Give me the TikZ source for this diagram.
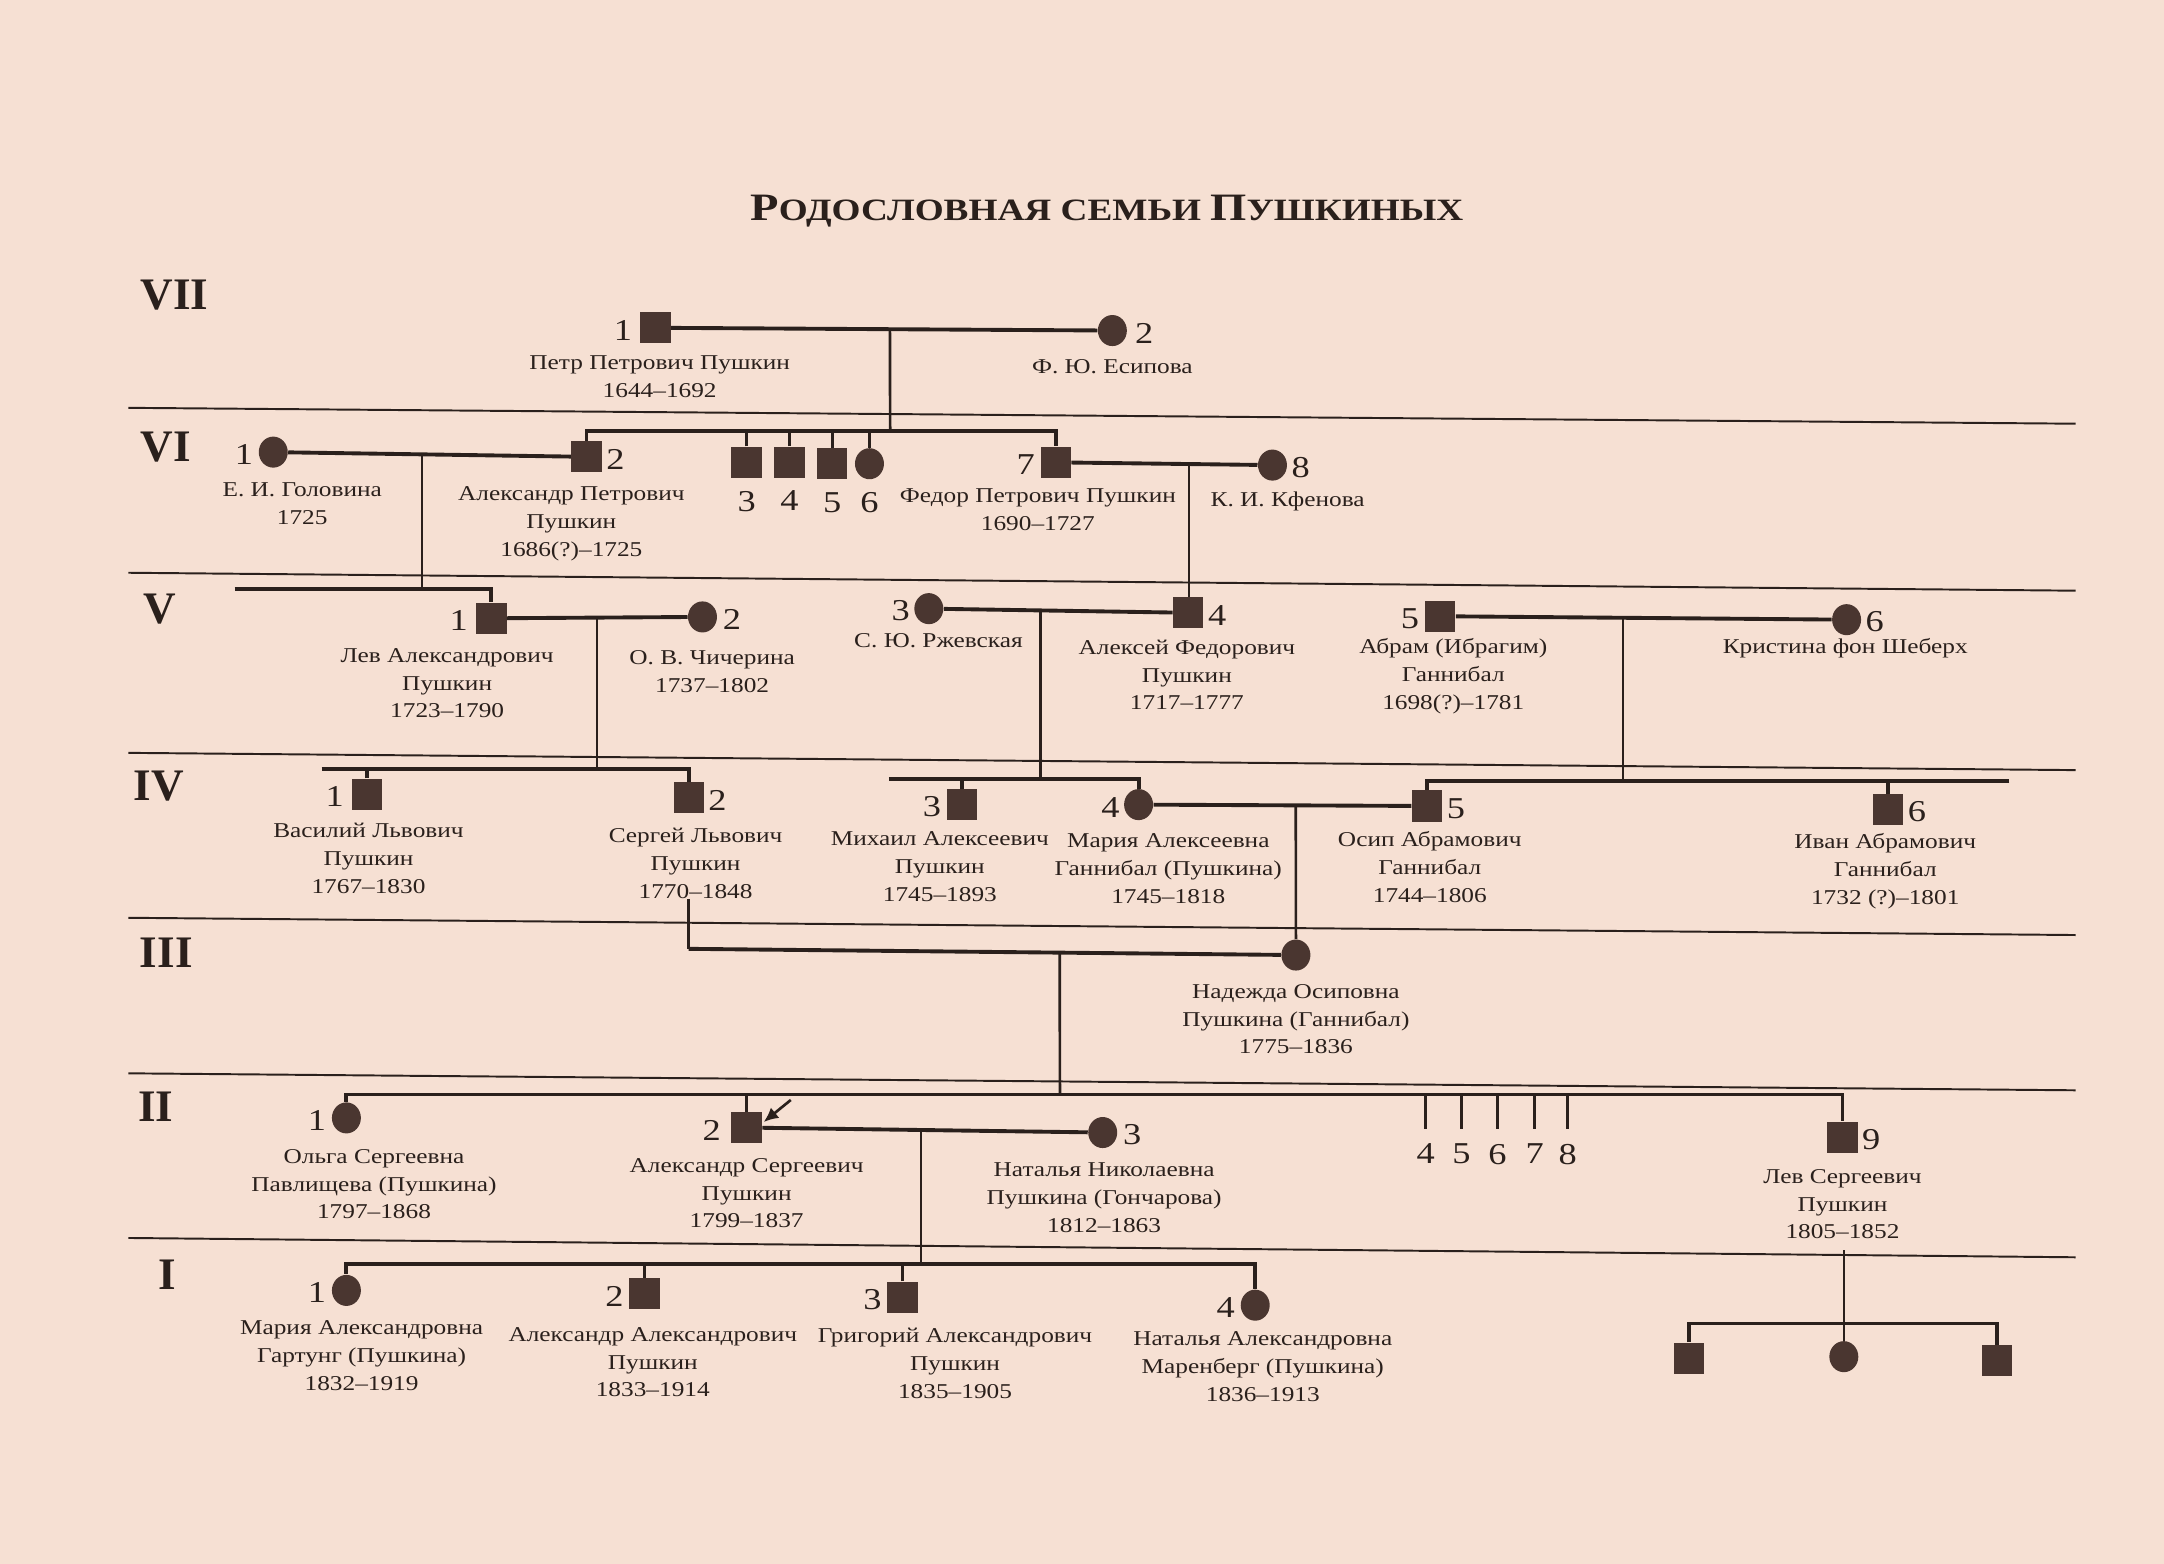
\documentclass[tikz,border=0pt]{standalone}
\usepackage{fontspec}
\setmainfont{Liberation Serif}[FakeStretch=1.2]
\newfontfamily\genfont{Liberation Serif}
\usetikzlibrary{positioning}
\usetikzlibrary{calc}
\usetikzlibrary{shapes.geometric}
\usetikzlibrary{arrows.meta}

\definecolor{paper}{HTML}{F6E0D3}
\definecolor{ink}{HTML}{2A201C}
\definecolor{symb}{HTML}{4A3630}
\newcommand{\capinit}[1]{{\fontsize{16}{16}\selectfont #1}}

\begin{document}
\begin{tikzpicture}[x=0.02cm, y=-0.02cm,
  male/.style={rectangle, fill=symb, minimum width=0.44cm, minimum height=0.45cm, inner sep=0pt},
  female/.style={ellipse, fill=symb, minimum width=0.42cm, minimum height=0.45cm, inner sep=0pt},
  num/.style={font=\fontsize{12.5}{13}\selectfont, text=ink, inner sep=0pt, yshift=-1pt},
  who/.style={font=\fontsize{8.7}{11.5}\selectfont, text=ink, align=center, inner sep=0pt},
  genlabel/.style={font=\genfont\bfseries\fontsize{18.6}{20}\selectfont, text=ink, inner sep=0pt},
  genline/.style={draw=ink, line width=0.8pt},
  couple/.style={draw=ink, line width=1.6pt},
  desc/.style={draw=ink, line width=1.1pt},
  pointer/.style={draw=ink, line width=1.1pt, -{Latex[length=6pt,width=5.5pt]}}]
\fill[paper] (0,0) rectangle (1568,1133);

\node[anchor=base, text=ink, inner sep=0pt, font=\bfseries\fontsize{12.8}{14}\selectfont] (title) at (802,160)
  {\capinit{Р}ОДОСЛОВНАЯ СЕМЬИ \capinit{П}УШКИНЫХ};

% generations
\node[genlabel] (g7) at (126.5,214) {VII};
\node[genlabel] (g6) at (120,324) {VI};
\node[genlabel] (g5) at (116,441) {V};
\node[genlabel] (g4) at (115,569.5) {IV};
\node[genlabel] (g3) at (120.5,690) {III};
\node[genlabel] (g2) at (113,802) {II};
\node[genlabel] (g1) at (121,923.5) {I};

\draw[genline] (93,295.5) -- (1504,307);
\draw[genline] (93,415) -- (1504,428);
\draw[genline] (93,545.5) -- (1504,558);
\draw[genline] (93,665) -- (1504,677.5);
\draw[genline] (93,777.7) -- (1504,790);
\draw[genline] (93,897) -- (1504,911);

% VII
\node[male] (petr) at (475,237.5) {};
\node[num, left=3pt of petr] (petr-n) {1};
\node[who] (petr-t) at (478,273) {Петр Петрович Пушкин\\1644--1692};
\node[female] (esipova) at (806,239.5) {};
\node[num, right=3pt of esipova] (esipova-n) {2};
\node[who] (esipova-t) at (806,266) {Ф. Ю. Есипова};

% VI
\node[female] (golovina) at (198,327.6) {};
\node[num, left=2pt of golovina] (golovina-n) {1};
\node[who] (golovina-t) at (219,365) {Е. И. Головина\\1725};
\node[male] (alexPetr) at (425,331) {};
\node[num, right=1.5pt of alexPetr] (alexPetr-n) {2};
\node[who] (alexPetr-t) at (414,379.5) {Александр Петрович\\Пушкин\\1686(?)--1725};
\node[male] (s3) at (541,335) {};
\node[male] (s4) at (572,335) {};
\node[male] (s5) at (603,336) {};
\node[female] (s6) at (630,336) {};
\node[num, below=4pt of s3] (s3-n) {3};
\node[num, below=4pt of s4] (s4-n) {4};
\node[num, below=4pt of s5] (s5-n) {5};
\node[num, below=4pt of s6] (s6-n) {6};
\node[male] (fedor) at (765,335) {};
\node[num, left=2pt of fedor] (fedor-n) {7};
\node[who] (fedor-t) at (752,369.5) {Федор Петрович Пушкин\\1690--1727};
\node[female] (kfenova) at (922,337) {};
\node[num, right=1.5pt of kfenova] (kfenova-n) {8};
\node[who] (kfenova-t) at (933,363) {К. И. Кфенова};

% V
\node[male] (lev) at (356,448) {};
\node[num, left=3pt of lev] (lev-n) {1};
\node[who] (lev-t) at (324,495) {Лев Александрович\\Пушкин\\1723--1790};
\node[female] (chicherina) at (509,447) {};
\node[num, right=2pt of chicherina] (chicherina-n) {2};
\node[who] (chicherina-t) at (516,486.5) {О. В. Чичерина\\1737--1802};
\node[female] (rzhevskaya) at (673,441) {};
\node[num, left=1.5pt of rzhevskaya] (rzhevskaya-n) {3};
\node[who] (rzhevskaya-t) at (680,464.5) {С. Ю. Ржевская};
\node[male] (alexei) at (861,444) {};
\node[num, right=1.5pt of alexei] (alexei-n) {4};
\node[who] (alexei-t) at (860,489) {Алексей Федорович\\Пушкин\\1717--1777};
\node[male] (abram) at (1043.5,446.5) {};
\node[num, left=2pt of abram] (abram-n) {5};
\node[who] (abram-t) at (1053,490) {Абрам (Ибрагим)\\Ганнибал\\1698(?)--1781};
\node[female] (christina) at (1338,449) {};
\node[num, right=1.5pt of christina] (christina-n) {6};
\node[who] (christina-t) at (1337,469.6) {Кристина фон Шеберх};

% IV
\node[male] (vasily) at (266,575.5) {};
\node[num, left=3pt of vasily] (vasily-n) {1};
\node[who] (vasily-t) at (267,622) {Василий Львович\\Пушкин\\1767--1830};
\node[male] (sergei) at (499,578) {};
\node[num, right=1.5pt of sergei] (sergei-n) {2};
\node[who] (sergei-t) at (504,625.5) {Сергей Львович\\Пушкин\\1770--1848};
\node[male] (mikhail) at (697,583) {};
\node[num, left=2pt of mikhail] (mikhail-n) {3};
\node[who] (mikhail-t) at (681,628) {Михаил Алексеевич\\Пушкин\\1745--1893};
\node[female] (maria) at (825,583) {};
\node[num, left=1.5pt of maria] (maria-n) {4};
\node[who] (maria-t) at (846.5,629.5) {Мария Алексеевна\\Ганнибал (Пушкина)\\1745--1818};
\node[male] (osip) at (1034,584) {};
\node[num, right=1.5pt of osip] (osip-n) {5};
\node[who] (osip-t) at (1036,628.5) {Осип Абрамович\\Ганнибал\\1744--1806};
\node[male] (ivan) at (1368,586.6) {};
\node[num, right=1.5pt of ivan] (ivan-n) {6};
\node[who] (ivan-t) at (1366,631.5) {Иван Абрамович\\Ганнибал\\1732 (?)--1801};

% III
\node[female] (nadezhda) at (939,692) {};
\node[who] (nadezhda-t) at (939,738.5) {Надежда Осиповна\\Пушкина (Ганнибал)\\1775--1836};

% II
\node[female] (olga) at (251,810) {};
\node[num, left=2pt of olga] (olga-n) {1};
\node[who] (olga-t) at (271,858) {Ольга Сергеевна\\Павлищева (Пушкина)\\1797--1868};
\node[male] (pushkin) at (541,817) {};
\node[num, left=4pt of pushkin] (pushkin-n) {2};
\node[who] (pushkin-t) at (541,864.5) {Александр Сергеевич\\Пушкин\\1799--1837};
\node[female] (natalia) at (799,820.6) {};
\node[num, right=2pt of natalia] (natalia-n) {3};
\node[who] (natalia-t) at (800,868) {Наталья Николаевна\\Пушкина (Гончарова)\\1812--1863};
\node[male] (levS) at (1335,824) {};
\node[num, right=1.5pt of levS] (levS-n) {9};
\node[who] (levS-t) at (1335,872.5) {Лев Сергеевич\\Пушкин\\1805--1852};

% I
\node[female] (mariaA) at (251,935) {};
\node[num, left=2pt of mariaA] (mariaA-n) {1};
\node[who] (mariaA-t) at (262,982) {Мария Александровна\\Гартунг (Пушкина)\\1832--1919};
\node[male] (alexA) at (467,937.5) {};
\node[num, left=2pt of alexA] (alexA-n) {2};
\node[who] (alexA-t) at (473,987) {Александр Александрович\\Пушкин\\1833--1914};
\node[male] (grigory) at (654,940) {};
\node[num, left=2pt of grigory] (grigory-n) {3};
\node[who] (grigory-t) at (692,988) {Григорий Александрович\\Пушкин\\1835--1905};
\node[female] (nataliaA) at (909.5,945.7) {};
\node[num, left=2pt of nataliaA] (nataliaA-n) {4};
\node[who] (nataliaA-t) at (915,990) {Наталья Александровна\\Маренберг (Пушкина)\\1836--1913};
\node[male] (lc1) at (1224,984) {};
\node[female] (lc2) at (1336,983) {};
\node[male] (lc3) at (1447,986) {};

% couples and children
\draw[couple] (petr) -- (esipova);
\coordinate (d7) at ($(petr)!0.513!(esipova)$);
\coordinate (sib6) at (645,312.5);
\draw[desc] (d7) -- (sib6);
\draw[couple] (alexPetr) |- (sib6) -| (fedor);
\foreach \c in {s3,s4,s5,s6}
  \draw[desc] (\c) -- (\c |- sib6);

\draw[couple] (golovina) -- (alexPetr);
\coordinate (d6a) at ($(golovina)!0.475!(alexPetr)$);
\coordinate (sib5) at (170,426.5);
\draw[desc] (d6a) -- (d6a |- sib5);
\draw[couple] (sib5) -| (lev);

\draw[couple] (fedor) -- (kfenova);
\coordinate (d6b) at ($(fedor)!0.615!(kfenova)$);
\draw[desc] (d6b) -- (d6b |- alexei.north);

\draw[couple] (lev) -- (chicherina);
\coordinate (d5a) at ($(lev)!0.5!(chicherina)$);
\coordinate (sib4a) at (233,557);
\draw[desc] (d5a) -- (d5a |- sib4a);
\draw[couple] (sib4a) -| (sergei);
\draw[couple] (vasily) -- (vasily |- sib4a);

\draw[couple] (rzhevskaya) -- (alexei);
\coordinate (d5b) at ($(rzhevskaya)!0.43!(alexei)$);
\coordinate (sib4b) at (644,564.5);
\draw[desc] (d5b) -- (d5b |- sib4b);
\draw[couple] (sib4b) -| (maria);
\draw[couple] (mikhail) -- (mikhail |- sib4b);

\draw[couple] (abram) -- (christina);
\coordinate (d5c) at ($(abram)!0.45!(christina)$);
\coordinate (sib4c) at (1456,566);
\draw[desc] (d5c) -- (d5c |- sib4c);
\draw[couple] (sib4c) -| (osip);
\draw[couple] (ivan) -- (ivan |- sib4c);

\draw[couple] (maria) -- (osip);
\coordinate (d4) at ($(maria)!0.545!(osip)$);
\draw[desc] (d4) -- (nadezhda);

\coordinate (c3) at (499,687.5);
\draw[desc] (sergei-t.south -| c3) -- (c3);
\draw[couple] (c3) -- (nadezhda);
\coordinate (d3) at ($(c3)!0.611!(nadezhda)$);
\coordinate (sib2) at (768,793);
\draw[desc] (d3) -- (sib2);
\draw[couple] (olga) |- (sib2) -| (levS);
\draw[desc] (pushkin) -- (pushkin |- sib2);
\foreach \x/\n in {1033/4,1059/5,1085/6,1112/7,1136/8} {
  \coordinate (k\n) at (\x,818);
  \draw[desc] (k\n |- sib2) -- (k\n);
  \node[num, below=5pt of k\n] (k\n-n) {\n};
}
\coordinate (arr) at (573,797);
\draw[pointer] (arr) -- ($(pushkin.east)+(1,-4)$);

\draw[couple] (pushkin) -- (natalia);
\coordinate (d2) at ($(pushkin)!0.49!(natalia)$);
\coordinate (sib1) at (667,916);
\draw[desc] (d2) -- (d2 |- sib1);
\draw[couple] (mariaA) |- (sib1) -| (nataliaA);
\draw[desc] (alexA) -- (alexA |- sib1);
\draw[desc] (grigory) -- (grigory |- sib1);

\coordinate (lv) at (1336,906);
\coordinate (lsib) at (1336,959);
\draw[desc] (lv) -- (lsib);
\draw[couple] (lc1) |- (lsib) -| (lc3);
\draw[desc] (lc2) -- (lc2 |- lsib);
\end{tikzpicture}
\end{document}
